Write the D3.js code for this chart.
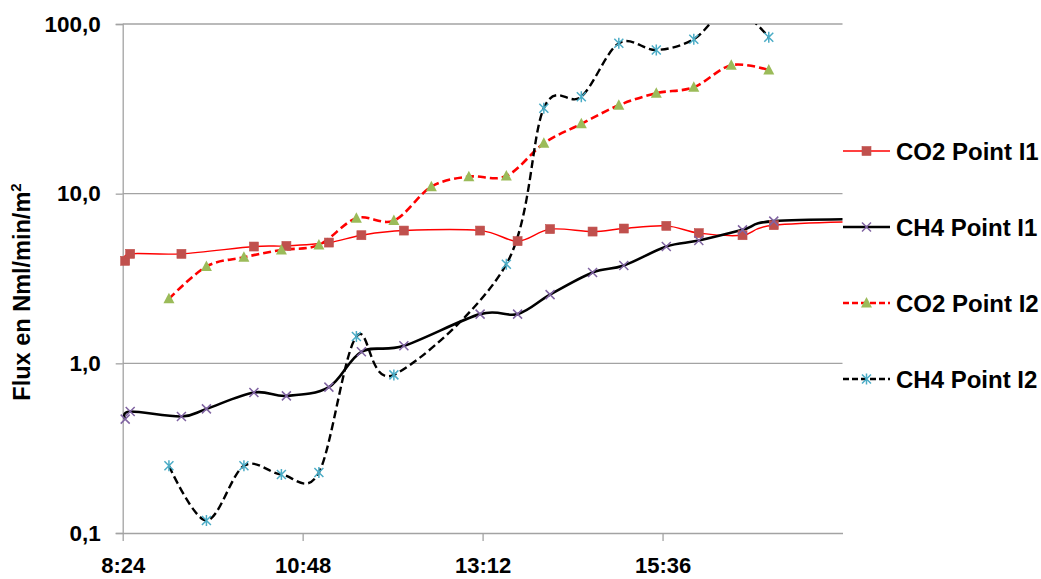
<!DOCTYPE html>
<html>
<head>
<meta charset="utf-8">
<script src="https://cdn.jsdelivr.net/npm/d3@7"></script>
<style>
  html, body { margin: 0; padding: 0; background: #ffffff; }
  svg { display: block; }
  text { font-family: "Liberation Sans", Arial, sans-serif; font-weight: bold; fill: #000; }
</style>
</head>
<body>
<svg id="chart" width="1041" height="579"></svg>
<script>
// Measurement times (h:mm) and fluxes (Nml/min/m²) for each point
const co2I1Times = ["8:26","8:30","9:11","10:09","10:35","11:09","11:35","12:09","13:10","13:40","14:06","14:40","15:05","15:39","16:05","16:40","17:05","18:35"];
const co2I1Values = [4.02, 4.42, 4.42, 4.88, 4.92, 5.15, 5.69, 6.06, 6.06, 5.25, 6.18, 5.98, 6.23, 6.46, 5.85, 5.69, 6.52, 6.9];

const ch4I1Times = ["8:26","8:30","9:11","9:31","10:09","10:35","11:09","11:35","12:09","13:10","13:40","14:06","14:40","15:05","15:39","16:05","16:40","17:05","18:35"];
const ch4I1Values = [0.469, 0.52, 0.486, 0.539, 0.673, 0.643, 0.724, 1.169, 1.268, 1.95, 1.95, 2.54, 3.43, 3.77, 4.88, 5.29, 6.12, 6.89, 7.1];

const co2I2Times = ["9:01","9:31","10:01","10:31","11:01","11:31","12:01","12:31","13:01","13:31","14:01","14:31","15:01","15:31","16:01","16:31","17:01"];
const co2I2Values = [2.4, 3.72, 4.22, 4.66, 4.99, 7.17, 6.94, 11.0, 12.6, 12.7, 19.8, 25.8, 33.2, 39.1, 42.4, 57.2, 53.6];

const ch4I2Times = ["9:01","9:31","10:01","10:31","11:01","11:31","12:01","13:31","14:01","14:31","15:01","15:31","16:01","16:31","17:01"];
const ch4I2Values = [0.249, 0.1185, 0.249, 0.221, 0.227, 1.44, 0.855, 3.84, 31.9, 37.3, 77.1, 70.3, 81.4, 125, 83.6];

const xTickLabels = ["8:24", "10:48", "13:12", "15:36"];
const yTickValues = [0.1, 1, 10, 100];
const yTickLabels = ["0,1", "1,0", "10,0", "100,0"];
const xDomain = ["8:24", "18:00"];
const seriesNames = ["CO2 Point I1", "CH4 Point I1", "CO2 Point I2", "CH4 Point I2"];

const toMin = s => { const [h, m] = s.split(":").map(Number); return h * 60 + m; };

const svg = d3.select("#chart");
const plot = { left: 122.7, right: 842.5, top: 24, bottom: 533 };

const x = d3.scaleLinear().domain(xDomain.map(toMin)).range([plot.left, plot.right]);
const y = d3.scaleLog().domain([0.1, 100]).range([plot.bottom, plot.top]);

const gridColor = "#a3a3a3";

// horizontal gridlines
svg.append("g").selectAll("line")
  .data(yTickValues.slice(1))
  .join("line")
  .attr("x1", plot.left).attr("x2", plot.right)
  .attr("y1", d => y(d)).attr("y2", d => y(d))
  .attr("stroke", gridColor).attr("stroke-width", 1.3);

// y axis
const yAxis = d3.axisLeft(y).tickValues(yTickValues)
  .tickFormat((d, i) => yTickLabels[i]).tickSize(7).tickPadding(15);
const gy = svg.append("g").attr("transform", `translate(${plot.left},0)`).call(yAxis);
gy.select(".domain").attr("stroke", gridColor).attr("stroke-width", 1.3);
gy.selectAll(".tick line").attr("stroke", gridColor).attr("stroke-width", 1.3);
gy.selectAll(".tick text").attr("font-size", 22.5).attr("font-family", "Liberation Sans, Arial, sans-serif").attr("font-weight", "bold").attr("fill", "#000");

// x axis
const xAxis = d3.axisBottom(x).tickValues(xTickLabels.map(toMin))
  .tickFormat((d, i) => xTickLabels[i]).tickSizeInner(8).tickSizeOuter(0).tickPadding(16);
const gx = svg.append("g").attr("transform", `translate(0,${plot.bottom})`).call(xAxis);
gx.select(".domain").attr("stroke", gridColor).attr("stroke-width", 1.3);
gx.selectAll(".tick line").attr("stroke", gridColor).attr("stroke-width", 1.3);
gx.selectAll(".tick text").attr("font-size", 22).attr("font-family", "Liberation Sans, Arial, sans-serif").attr("font-weight", "bold").attr("fill", "#000");

// y axis title
const title = svg.append("text")
  .attr("transform", "translate(30,292) rotate(-90)")
  .attr("text-anchor", "middle")
  .attr("font-size", 23.5);
title.append("tspan").text("Flux en Nml/min/m");
title.append("tspan").attr("font-size", 15).attr("dy", -9).text("2");

// clip region for the series lines
svg.append("clipPath").attr("id", "plotClip")
  .append("rect")
  .attr("x", plot.left).attr("y", plot.top)
  .attr("width", plot.right - plot.left).attr("height", plot.bottom - plot.top);

const series = [
  { name: seriesNames[0], times: co2I1Times, values: co2I1Values, stroke: "#ff0000", width: 1.4, dash: null, marker: "square", color: "#c0504d" },
  { name: seriesNames[1], times: ch4I1Times, values: ch4I1Values, stroke: "#000000", width: 2.6, dash: null, marker: "cross", color: "#8064a2" },
  { name: seriesNames[2], times: co2I2Times, values: co2I2Values, stroke: "#ff0000", width: 2.6, dash: "8,4", marker: "triangle", color: "#9bbb59" },
  { name: seriesNames[3], times: ch4I2Times, values: ch4I2Values, stroke: "#000000", width: 2.4, dash: "8,4", marker: "star", color: "#4bacc6" }
];

const line = d3.line().x(d => x(d.t)).y(d => y(d.v)).curve(d3.curveCatmullRom.alpha(0));

function drawMarker(g, type, color) {
  if (type === "square") {
    g.append("rect").attr("x", -4.5).attr("y", -4.5).attr("width", 9).attr("height", 9)
      .attr("fill", color).attr("stroke", color).attr("stroke-width", 0.6);
  } else if (type === "triangle") {
    g.append("path").attr("d", "M0,-6L5.5,4.5L-5.5,4.5Z").attr("fill", color);
  } else if (type === "cross") {
    g.append("path").attr("d", "M-4.5,-4.5L4.5,4.5M-4.5,4.5L4.5,-4.5")
      .attr("stroke", color).attr("stroke-width", 1.5).attr("fill", "none");
  } else if (type === "star") {
    g.append("path").attr("d", "M-4.5,-4.5L4.5,4.5M-4.5,4.5L4.5,-4.5M0,-5.5L0,5.5")
      .attr("stroke", color).attr("stroke-width", 1.5).attr("fill", "none");
  }
}

const xMin = toMin(xDomain[0]), xMax = toMin(xDomain[1]);

series.forEach(s => {
  const pts = s.times.map((t, i) => ({ t: toMin(t), v: s.values[i] }));
  svg.append("path")
    .attr("clip-path", "url(#plotClip)")
    .attr("d", line(pts))
    .attr("fill", "none")
    .attr("stroke", s.stroke)
    .attr("stroke-width", s.width)
    .attr("stroke-dasharray", s.dash)
    .attr("stroke-linejoin", "round");
  s.pts = pts;
});

// markers on top of lines
series.forEach(s => {
  const g = svg.append("g");
  s.pts.filter(d => d.t >= xMin && d.t <= xMax && d.v <= 100 && d.v >= 0.1).forEach(d => {
    const m = g.append("g").attr("transform", `translate(${x(d.t)},${y(d.v)})`);
    drawMarker(m, s.marker, s.color);
  });
});

// legend
const legendY = [151, 227, 303, 379];
series.forEach((s, i) => {
  const g = svg.append("g").attr("transform", `translate(843,${legendY[i]})`);
  g.append("line").attr("x1", 0).attr("x2", 47).attr("y1", 0).attr("y2", 0)
    .attr("stroke", s.stroke).attr("stroke-width", s.width).attr("stroke-dasharray", s.dash ? "6,3" : null);
  drawMarker(g.append("g").attr("transform", "translate(23.5,0)"), s.marker, s.color);
  g.append("text").attr("x", 53).attr("y", 9).attr("font-size", 24).text(s.name);
});
</script>
</body>
</html>
